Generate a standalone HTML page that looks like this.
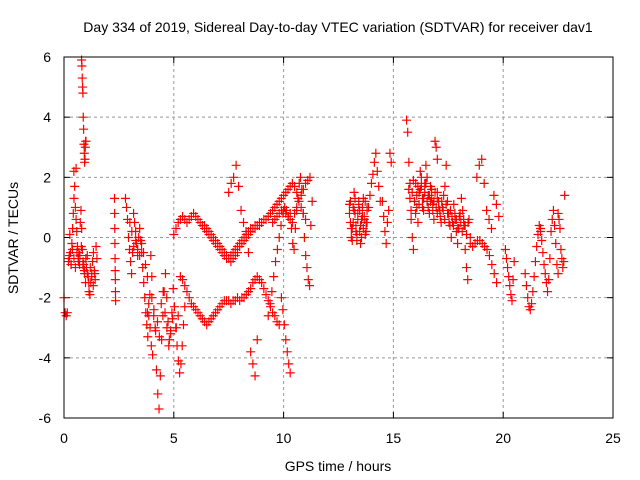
<!DOCTYPE html>
<html><head><meta charset="utf-8"><style>
body{margin:0;background:#fff}
svg{display:block;font-family:"Liberation Sans",sans-serif;font-size:14px}
</style></head><body>
<svg id="c" width="640" height="480">
<text x="338" y="32" text-anchor="middle">Day 334 of 2019, Sidereal Day-to-day VTEC variation (SDTVAR) for receiver dav1</text>
<text x="338" y="471" text-anchor="middle">GPS time / hours</text>
<text transform="translate(18,238) rotate(-90)" text-anchor="middle">SDTVAR / TECUs</text>
<g id="grid"></g>
<g id="marks"></g>
<rect x="64" y="57" width="549" height="361" fill="none" stroke="#000" stroke-width="1"/>
</svg>
<script>
const xTicks=[0,5,10,15,20,25];
const yTicks=[-6,-4,-2,0,2,4,6];
const segStart=[0.0,0.2,0.45,0.8,0.9,2.3,2.8,3.8,5.3,8.5,5.0,6.4,9.5,9.3,9.9,10.3,7.5,13.0,13.0,13.8,14.5,15.6,15.7,17.0,17.0,18.5,18.8,20.1,21.0,21.7,22.5,0.25,3.0,4.0];
const segEnd=[0.15,0.9,0.55,1.0,1.5,2.35,4.0,5.5,9.8,8.8,11.0,9.0,11.2,10.3,10.3,11.3,8.4,13.8,13.8,14.4,14.9,17.0,17.0,18.5,18.4,19.7,19.8,20.5,21.7,22.5,22.8,1.4,3.8,5.2];
const segValues=[
[-2,-2.5,-2.6,-2.5],
[-0.8,-0.7,0.1,-0.5,-0.9,-0.2,0.3,0.8,1.3,1.7,1.0,0.6,0.2,-0.3,-0.7,-0.5,-0.9,0.5,0.9,0.3,-0.4,-0.8,-1.0],
[2.2,2.3],
[5.9,5.7,5.3,5.0,4.8,4.0,3.6,3.1,2.8,2.5,2.6,3.0,3.2,3.2],
[-0.9,-1.2,-1.5,-1.0,-0.6,-1.3,-1.8,-1.9,-1.5,-1.2,-0.8,-0.5,-1.1,-1.4,-0.3,-0.7],
[1.3,0.8,0.3,-0.2,-0.7,-1.1,-1.4,-1.8,-2.1],
[1.3,1.0,0.6,0.0,-0.4,-0.8,-1.2,-0.5,0.8,0.5,0.2,-0.2,-0.6,0.0,0.3,-0.1,-0.5,-1.0,-1.5,-2.0,-2.5,-2.9,-3.3,-2.6,-1.9,-0.6,-1.3],
[-2.5,-2.2,-3.0,-3.6,-3.9,-2.4,-3.0,-4.4,-5.2,-5.7,-4.6,-3.4,-2.6,-1.8,-1.2,-2.0,-2.8,-3.4,-3.1,-2.5,-1.7,-2.3,-3.0,-3.6,-4.1,-4.5,-4.2,-3.6,-2.9,-2.3],
[-1.3,-1.4,-1.6,-1.8,-2.0,-2.2,-2.3,-2.4,-2.5,-2.6,-2.7,-2.8,-2.9,-2.8,-2.7,-2.6,-2.5,-2.4,-2.3,-2.2,-2.1,-2.1,-2.1,-2.2,-2.1,-2.1,-2.0,-2.1,-2.0,-2.0,-1.9,-1.8,-1.7,-1.5,-1.4,-1.3,-1.4,-1.5,-1.7,-1.9,-2.1,-2.3,-2.5,-2.6,-2.8,-2.9],
[-3.8,-4.2,-4.6,-3.4],
[0.1,0.3,0.5,0.6,0.7,0.6,0.5,0.6,0.7,0.8,0.7,0.6,0.5,0.4,0.3,0.2,0.1,0.0,-0.1,-0.2,-0.3,-0.4,-0.5,-0.6,-0.7,-0.7,-0.6,-0.5,-0.4,-0.3,-0.2,-0.1,0.0,0.1,0.2,0.3,0.3,0.4,0.4,0.5,0.5,0.6,0.6,0.7,0.8,0.9,1.0,1.1,1.2,1.3,1.4,1.5,1.6,1.7,1.8,1.7,1.5,1.2,1.0,0.8,0.6],
[0.4,0.3,0.2,0.1,0.0,-0.1,-0.2,-0.3,-0.4,-0.5,-0.6,-0.7,-0.8,-0.7,-0.6,-0.5,-0.3,-0.2,-0.1,0.0,0.1,0.2,0.3,0.3,0.4,0.4,0.5],
[0.5,0.6,0.7,0.8,0.9,0.9,0.8,0.7,0.6,0.5,0.8,1.0,1.2,1.4,1.6,1.8,1.9,2.0],
[-2.6,-2.2,-1.8,-1.3,-0.8,-0.4,0.0,0.4,0.8,1.0,0.9,0.7,0.8],
[-2.0,-2.4,-2.9,-3.4,-3.8,-4.2,-4.5],
[0.8,0.3,-0.2,-0.4,0.3,0.9,1.3,1.8,2.0,1.6,0.8,0.0,-0.6,-1.0,-1.4,-1.6,0.4,1.2],
[1.5,1.8,2.0,2.4,1.7,0.9,0.5,0.2,-0.5],
[1.1,0.5,0.0,0.3,1.0,1.5,0.8,0.2,-0.1,0.6,1.2,0.9,0.4,0.0,0.7,1.3,0.6,0.1,0.2,1.0],
[0.8,1.2,0.3,-0.1,0.5,0.9,1.3,0.4,0.1,0.8,1.1,0.2,-0.2,0.6,1.0,0.3,0.7,1.2,0.5,0.9],
[0.5,1.0,1.4,1.8,2.1,2.5,2.8,2.2,1.7,1.2],
[1.2,0.7,0.2,-0.2,0.5,0.9,2.8,2.5],
[3.9,3.5,2.5,1.8,0.6,0.0,-0.4,1.2,1.8,1.0,0.5,1.5,2.2,1.7,1.0,1.3,1.8,2.4,2.0,1.4,0.8,1.2,1.6,1.1,0.6,3.2,3.0,2.6],
[1.6,1.3,0.9,1.5,1.9,1.2,0.8,1.4,1.7,1.1,1.6,2.0,1.3,0.9,1.5,1.8,1.2,1.0,1.4,1.7,1.3,0.9,1.2,1.5,1.0,0.8],
[1.5,1.2,0.9,0.5,1.0,1.4,1.7,2.4,1.2,0.8,0.4,0.0,0.5,1.1,0.6,0.2,-0.2,0.3,0.8,1.3,0.9,0.4,-0.4,-1.0,-1.4,0.6,0.0],
[1.3,1.0,0.7,1.2,0.9,0.6,1.1,0.8,0.5,0.9,0.7,0.4,0.8,0.6,0.3,0.7,0.5,0.2,0.6,0.4,0.1,0.5],
[-0.2,-0.3,-0.2,-0.1,-0.1,-0.2,-0.3,-0.4,-0.6,-0.9,-1.2,-1.5],
[2.0,2.4,2.6,1.8,0.9,0.6,0.3,1.4,1.1,0.7],
[-0.4,-0.7,-1.0,-1.3,-1.6,-1.9,-2.1,-1.4,-0.8],
[-1.2,-1.6,-2.0,-2.3,-2.4,-2.2,-1.8,-1.3,-0.8,-0.3,0.1,0.4,0.2],
[0.3,-0.1,-0.5,-0.9,-1.2,-1.5,-1.8,-1.4,-0.7,0.2,0.6,0.9,0.4,-0.2,-0.9,-1.2],
[0.8,0.6,0.3,-0.4,-0.7,-1.0,-0.8,1.4],
[-0.6,-0.9,-0.4,-0.7,-1.0,-0.5,-0.8,-0.6,-0.3,-0.9,-1.1,-0.7,-1.2,-1.5,-1.0,-1.3,-1.6,-1.2],
[0.5,0.2,-0.3,-0.1,-0.4,-0.6,-0.2,-0.5,-0.9,-1.3],
[-2.0,-2.6,-3.1,-2.8,-3.3,-2.2,-1.8,-2.5,-3.0,-3.6,-3.2,-2.7,-2.3,-3.0,-2.6]
];
const NS="http://www.w3.org/2000/svg";
const X0=64,X1=613,Y0=418,Y1=57;
function xs(v){return X0+(v-0)/(25-0)*(X1-X0);}
function ys(v){return Y0-(v+6)/12*(Y0-Y1);}
const grid=document.getElementById('grid');
function mk(tag,a,p){const e=document.createElementNS(NS,tag);for(const k in a)e.setAttribute(k,a[k]);p.appendChild(e);return e;}
xTicks.forEach(t=>{
  const x=xs(t);
  if(t>0&&t<25){const l=mk('line',{x1:x,x2:x,y1:Y1,y2:Y0,stroke:'#999','stroke-dasharray':'3,3'},grid);
  
  }
  mk('line',{x1:x,x2:x,y1:Y0,y2:Y0-6,stroke:'#000'},grid);
  mk('line',{x1:x,x2:x,y1:Y1,y2:Y1+6,stroke:'#000'},grid);
  const tx=mk('text',{x:x,y:Y0+25,'text-anchor':'middle'},grid);tx.textContent=t;
  
  
});
yTicks.forEach(t=>{
  const y=ys(t);
  if(t>-6&&t<6){const l=mk('line',{x1:X0,x2:X1,y1:y,y2:y,stroke:'#999','stroke-dasharray':'3,3'},grid);
  
  }
  mk('line',{x1:X0,x2:X0+6,y1:y,y2:y,stroke:'#000'},grid);
  mk('line',{x1:X1,x2:X1-6,y1:y,y2:y,stroke:'#000'},grid);
  const tx=mk('text',{x:X0-13,y:y+5,'text-anchor':'end'},grid);tx.textContent=t;
  
  
});
const marks=document.getElementById('marks');
let d='';
segValues.forEach((vals,i)=>{
  const n=vals.length;
  vals.forEach((v,j)=>{
    const t=segStart[i]+(n>1?(segEnd[i]-segStart[i])*j/(n-1):0);
    const x=xs(t),y=ys(v);
    d+=`M${x-4.5},${y}h9M${x},${y-4.5}v9`;
  });
});
const p=mk('path',{d:d,stroke:'#f00','stroke-width':1.2,fill:'none'},marks);


</script>
</body></html>
